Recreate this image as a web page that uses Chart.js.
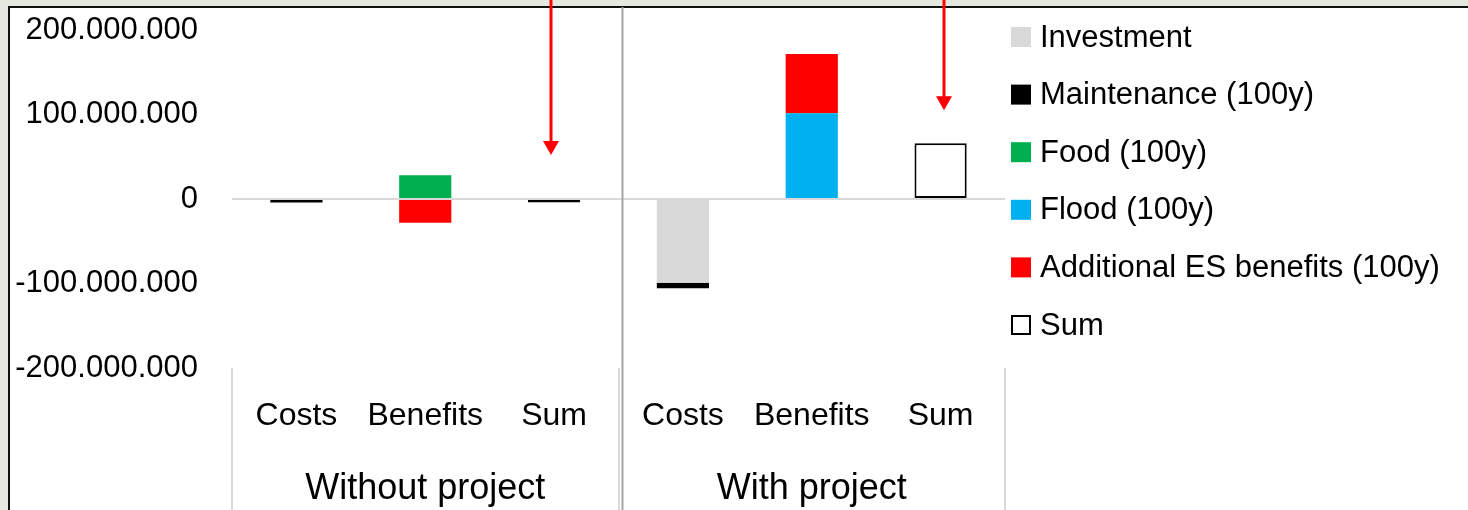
<!DOCTYPE html>
<html>
<head>
<meta charset="utf-8">
<title>Costs and benefits</title>
<script src="https://cdn.jsdelivr.net/npm/chart.js@4.4.1/dist/chart.umd.min.js"></script>
<style>
  html, body { margin: 0; padding: 0; }
  body { width: 1468px; height: 510px; background: #e3e8e0; position: relative; overflow: hidden; }
  #sheet { position: absolute; left: 8px; top: 6px; right: 0; bottom: 0; background: #fff;
           border-top: 2px solid #111; border-left: 2px solid #111; }
  #costChart { position: absolute; left: 0; top: 0; }
</style>
</head>
<body>
<div id="sheet"></div>
<canvas id="costChart" width="1468" height="510"></canvas>
<script>
const categories = ["Costs", "Benefits", "Sum", "Costs", "Benefits", "Sum"];
const groups = ["Without project", "With project"];
const yTicks = [-200000000, -100000000, 0, 100000000, 200000000];

const investment = [null, null, null, -99000000, null, null];
const maintenance = [-4000000, null, null, -6500000, null, null];
const food = [null, 28000000, null, null, null, null];
const flood = [null, null, null, null, 101500000, null];
const additionalEs = [null, -28000000, null, null, 70000000, null];
const sum = [null, null, -4000000, null, null, 66000000];

// red arrows above the two sums: [category index, tip value]
const arrowTips = [[2, 52000000], [5, 105000000]];

const FONT = '"Liberation Sans", Arial, sans-serif';

function dotted(v) {
    const s = String(Math.abs(v)).replace(/\B(?=(\d{3})+(?!\d))/g, ".");
    return (v < 0 ? "-" : "") + s;
}

// legend list on the right, one row per dataset
const sideLegend = {
    id: "sideLegend",
    afterDraw(chart) {
        const ctx = chart.ctx;
        const left = chart.chartArea.right + 6;
        ctx.save();
        ctx.font = "31px " + FONT;
        ctx.textBaseline = "middle";
        chart.data.datasets.forEach((ds, i) => {
            const y = 37 + i * 57.6;
            ctx.fillStyle = ds.backgroundColor;
            ctx.fillRect(left, y - 10, 20, 20);
            if (ds.borderWidth) {
                ctx.strokeStyle = ds.borderColor;
                ctx.lineWidth = 2;
                ctx.strokeRect(left + 1, y - 9, 18, 18);
            }
            ctx.fillStyle = "#000";
            ctx.fillText(ds.label, left + 29, y + 1);
        });
        ctx.restore();
    }
};

// group separator and the two pointer arrows
const decorations = {
    id: "decorations",
    afterDraw(chart) {
        const ctx = chart.ctx;
        const x = chart.scales.x;
        const y = chart.scales.y;
        ctx.save();
        ctx.strokeStyle = "#a6a6a6";
        ctx.lineWidth = 2;
        const sepX = (x.getPixelForValue(2) + x.getPixelForValue(3)) / 2 + 4;
        ctx.beginPath();
        ctx.moveTo(sepX, 7);
        ctx.lineTo(sepX, chart.height);
        ctx.stroke();

        ctx.strokeStyle = "#ff0000";
        ctx.fillStyle = "#ff0000";
        ctx.lineWidth = 3;
        arrowTips.forEach(([idx, val]) => {
            const ax = Math.round(x.getPixelForValue(idx)) - 3 + (idx > 2 ? 6 : 0);
            const tip = y.getPixelForValue(val);
            ctx.beginPath();
            ctx.moveTo(ax, 0);
            ctx.lineTo(ax, tip - 12);
            ctx.stroke();
            ctx.beginPath();
            ctx.moveTo(ax - 8, tip - 14);
            ctx.lineTo(ax + 8, tip - 14);
            ctx.lineTo(ax, tip);
            ctx.closePath();
            ctx.fill();
        });
        ctx.restore();
    }
};

const barDefaults = { categoryPercentage: 0.405, barPercentage: 1, borderWidth: 0 };

// divider under the category labels at group edges (index 0, 3 and the closing line)
const groupEdge = (c) => (c.index === undefined || c.index % 3 === 0 ? "#d9d9d9" : "transparent");

new Chart(document.getElementById("costChart"), {
    type: "bar",
    data: {
        labels: categories,
        datasets: [
            Object.assign({ label: "Investment", data: investment, backgroundColor: "#d9d9d9" }, barDefaults),
            Object.assign({ label: "Maintenance (100y)", data: maintenance, backgroundColor: "#000000" }, barDefaults),
            Object.assign({ label: "Food (100y)", data: food, backgroundColor: "#00b050" }, barDefaults),
            Object.assign({ label: "Flood (100y)", data: flood, backgroundColor: "#00b0f0" }, barDefaults),
            Object.assign({ label: "Additional ES benefits (100y)", data: additionalEs, backgroundColor: "#ff0000" }, barDefaults),
            Object.assign({}, barDefaults, {
                label: "Sum", data: sum, backgroundColor: "#ffffff",
                borderColor: "#000000", borderWidth: 2, borderSkipped: false
            })
        ]
    },
    options: {
        responsive: false,
        animation: false,
        layout: { padding: { left: 15, right: 463, top: 30, bottom: 0 } },
        plugins: {
            legend: { display: false },
            tooltip: { enabled: false }
        },
        scales: {
            y: {
                stacked: true,
                min: -200000000,
                max: 200000000,
                afterBuildTicks: (s) => { s.ticks = yTicks.map((v) => ({ value: v })); },
                afterFit: (s) => { s.width = 217; },
                border: { display: false },
                grid: {
                    drawTicks: true,
                    tickLength: 34,
                    tickColor: "transparent",
                    lineWidth: 2,
                    color: (c) => (c.tick && c.tick.value === 0 ? "#d9d9d9" : "transparent")
                },
                ticks: {
                    padding: 0,
                    color: "#000",
                    font: { family: FONT, size: 31 },
                    callback: (v) => dotted(v)
                }
            },
            x: {
                stacked: true,
                weight: 0,
                afterFit: (s) => { s.height = 68; },
                border: { display: false },
                grid: {
                    offset: true,
                    drawOnChartArea: false,
                    tickLength: 68,
                    lineWidth: 2,
                    color: groupEdge
                },
                ticks: {
                    padding: -39.2,
                    autoSkip: false,
                    maxRotation: 0,
                    color: "#000",
                    font: { family: FONT, size: 32 }
                }
            },
            x2: {
                type: "category",
                position: "bottom",
                display: true,
                weight: 1,
                labels: groups,
                offset: true,
                afterFit: (s) => { s.height = 74; },
                border: { display: false },
                grid: {
                    offset: true,
                    drawOnChartArea: false,
                    tickLength: 74,
                    lineWidth: 2,
                    color: "#d9d9d9"
                },
                ticks: {
                    padding: -42.6,
                    autoSkip: false,
                    maxRotation: 0,
                    color: "#000",
                    font: { family: FONT, size: 36 }
                }
            }
        }
    },
    plugins: [sideLegend, decorations]
});
</script>
</body>
</html>
